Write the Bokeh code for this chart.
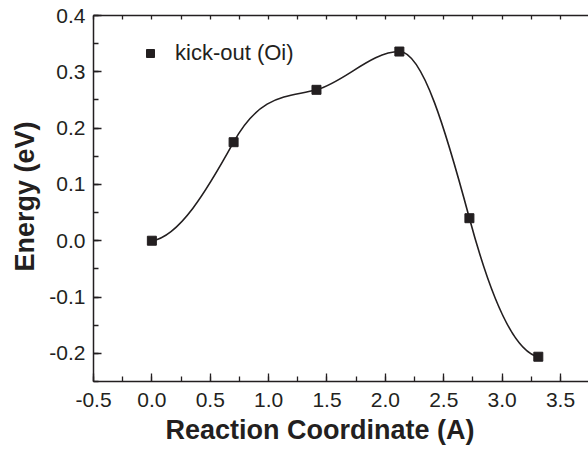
import numpy as np
from bokeh.plotting import figure
from bokeh.models import (LinearAxis, SingleIntervalTicker, PrintfTickFormatter,
                          Legend, LegendItem, FixedTicker, Title)
from bokeh.embed import file_html
from bokeh.resources import INLINE

# data
coord = [0.0, 0.70, 1.41, 2.12, 2.72, 3.31]
energy = [0.0, 0.175, 0.268, 0.336, 0.040, -0.206]
# slope of the drawn smooth curve at each point (dE/dx)
curve_slopes = [0.03, 0.375, 0.058, 0.0, -0.77, -0.042]
series_name = "kick-out (Oi)"
x_label = "Reaction Coordinate (A)"
y_label = "Energy (eV)"

INK = "#231f20"
FONT = "Liberation Sans"

p = figure(width=588, height=451, x_range=(-0.5, 3.74), y_range=(-0.25, 0.4),
           output_backend="svg", toolbar_location=None, x_axis_type=None, y_axis_type=None,
           min_border_left=93, min_border_right=0, min_border_top=15, min_border_bottom=70)
p.outline_line_color = None
p.xgrid.visible = False
p.ygrid.visible = False
p.background_fill_color = "white"

# smooth connecting curve: one cubic Bezier per segment, drawn by Bokeh
x = np.asarray(coord)
y = np.asarray(energy)
m = np.asarray(curve_slopes)
h = np.diff(x)
p.bezier(x0=x[:-1], y0=y[:-1], x1=x[1:], y1=y[1:],
         cx0=x[:-1] + h / 3, cy0=y[:-1] + m[:-1] * h / 3,
         cx1=x[1:] - h / 3, cy1=y[1:] - m[1:] * h / 3,
         line_color=INK, line_width=1.6)
pts = p.scatter(coord, energy, marker="square", size=9, fill_color=INK, line_color=INK)

xaxis = LinearAxis(ticker=SingleIntervalTicker(interval=0.5, num_minor_ticks=2),
                   formatter=PrintfTickFormatter(format="%.1f"))
yaxis = LinearAxis(ticker=SingleIntervalTicker(interval=0.1, num_minor_ticks=2),
                   formatter=PrintfTickFormatter(format="%.1f"))
top_ticks = [-0.5 + 0.25 * i for i in range(18)]
topaxis = LinearAxis(ticker=FixedTicker(ticks=top_ticks),
                     major_label_overrides={t: "" for t in top_ticks})

for ax in (xaxis, yaxis, topaxis):
    ax.axis_line_color = INK
    ax.axis_line_width = 1.5
    ax.major_tick_line_color = INK
    ax.minor_tick_line_color = INK
    ax.major_tick_line_width = 1.3
    ax.minor_tick_line_width = 1.3
    ax.major_tick_in = 8
    ax.major_tick_out = 0
    ax.minor_tick_in = 5
    ax.minor_tick_out = 0
    ax.major_label_text_font = FONT
    ax.major_label_text_font_size = "21px"
    ax.major_label_text_color = INK

topaxis.major_tick_in = 4
topaxis.major_label_text_font_size = "1px"
topaxis.major_label_standoff = 0

xaxis.major_label_standoff = 11
yaxis.major_label_standoff = 8

p.add_layout(xaxis, "below")
p.add_layout(yaxis, "left")
p.add_layout(topaxis, "above")

# axis titles, placed along the axes as in the reference
p.add_layout(Title(text=x_label, align="left", offset=72, standoff=7,
                   text_font=FONT, text_font_size="27px", text_font_style="bold",
                   text_color=INK), "below")
p.add_layout(Title(text=y_label, align="left", offset=110, standoff=14,
                   text_font=FONT, text_font_size="27px", text_font_style="bold",
                   text_color=INK), "left")

legend = Legend(items=[LegendItem(label=series_name, renderers=[pts])],
                location=(47, 315), border_line_color=None, background_fill_alpha=0,
                padding=0, margin=0, label_standoff=15, glyph_width=20, glyph_height=24,
                label_height=24,
                label_text_font=FONT, label_text_font_size="22px", label_text_color=INK)
p.add_layout(legend, "center")

open("out.html", "w").write(file_html(p, INLINE))
